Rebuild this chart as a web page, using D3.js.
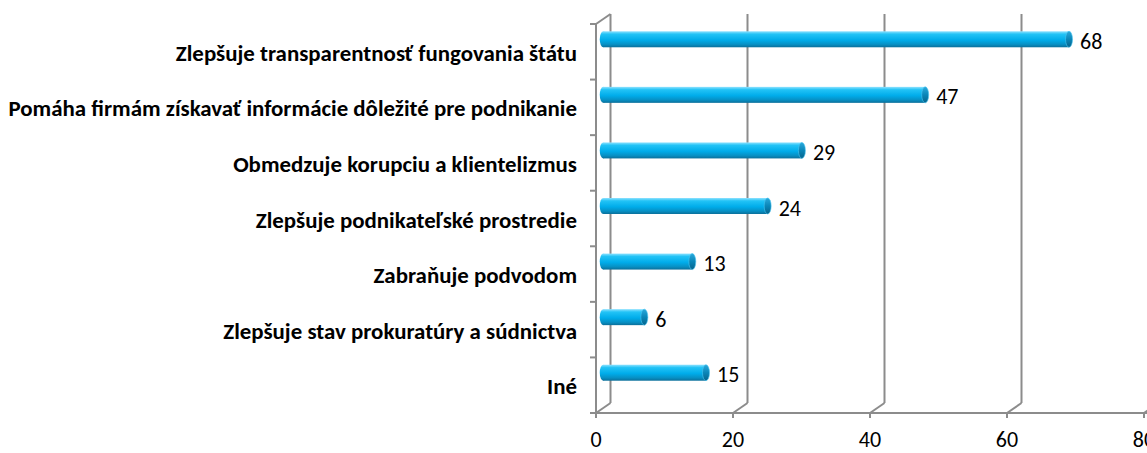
<!DOCTYPE html>
<html>
<head>
<meta charset="utf-8">
<script src="https://cdn.jsdelivr.net/npm/d3@7"></script>
<style>
 body { margin:0; background:#fff; }
 svg { display:block; }
</style>
</head>
<body>
<svg width="1147" height="453"></svg>
<script>
const categories = [
	"Zlepšuje transparentnosť fungovania štátu",
	"Pomáha firmám získavať informácie dôležité pre podnikanie",
	"Obmedzuje korupciu a klientelizmus",
	"Zlepšuje podnikateľské prostredie",
	"Zabraňuje podvodom",
	"Zlepšuje stav prokuratúry a súdnictva",
	"Iné"
];
const values = [68, 47, 29, 24, 13, 6, 15];
const xTicks = [0, 20, 40, 60, 80];

const holder = {
	"svg": d3.select("svg"),
	"left": 596, "right": 1144, "top": 24, "bottom": 413,
	"dx": 14.5, "dy": -10, "wallTop": 14,
	"grid": "#8c8c8c",
	"font": "Calibri, Carlito, 'Open Sans', sans-serif"
};

const x = d3.scaleLinear().domain([0, 80]).range([holder.left, holder.right]);
const y = d3.scaleBand().domain(categories).range([holder.top, holder.bottom]);

function drawFrame(svg) {
	const g = svg.append("g").attr("stroke", holder.grid).attr("stroke-width", 2).attr("fill", "none");
	// back wall gridlines + floor slants + ticks
	xTicks.forEach(t => {
		g.append("line")
			.attr("x1", x(t) + holder.dx).attr("x2", x(t) + holder.dx)
			.attr("y1", holder.bottom + holder.dy).attr("y2", holder.wallTop);
		g.append("line")
			.attr("x1", x(t)).attr("y1", holder.bottom)
			.attr("x2", x(t) + holder.dx).attr("y2", holder.bottom + holder.dy);
		g.append("line")
			.attr("x1", x(t)).attr("x2", x(t))
			.attr("y1", holder.bottom).attr("y2", holder.bottom + 5);
	});
	g.append("line").attr("x1", holder.left).attr("x2", 1147)
		.attr("y1", holder.bottom).attr("y2", holder.bottom);
	// left axis
	g.append("line").attr("x1", holder.left).attr("x2", holder.left)
		.attr("y1", holder.top).attr("y2", holder.bottom);
	g.append("line").attr("x1", holder.left).attr("y1", holder.top)
		.attr("x2", holder.left + holder.dx).attr("y2", holder.wallTop);
	const bounds = categories.map(c => y(c)).concat([holder.bottom]);
	bounds.forEach(b => {
		g.append("line").attr("x1", holder.left - 6).attr("x2", holder.left)
			.attr("y1", b).attr("y2", b);
	});
}

function drawBars(svg) {
	const defs = svg.append("defs");
	const body = defs.append("linearGradient").attr("id", "cyl").attr("x1", 0).attr("y1", 0).attr("x2", 0).attr("y2", 1);
	[["0%", "#8fe2ff"], ["18%", "#22c3f6"], ["55%", "#00acea"], ["82%", "#0790c4"], ["100%", "#0b6f9a"]]
		.forEach(s => body.append("stop").attr("offset", s[0]).attr("stop-color", s[1]));
	const cap = defs.append("linearGradient").attr("id", "cap").attr("x1", 0).attr("y1", 0).attr("x2", 0).attr("y2", 1);
	[["0%", "#2aa9dc"], ["50%", "#0a86b8"], ["100%", "#06648c"]]
		.forEach(s => cap.append("stop").attr("offset", s[0]).attr("stop-color", s[1]));

	const h = 16, rx = 3.5;
	const data = categories.map((c, i) => ({ c: c, v: values[i] }));
	const cy = d => y(d.c) + y.bandwidth() / 2 - 12.5;
	const x0 = x(0) + holder.dx / 2;
	const xv = d => x(d.v) + holder.dx / 2;

	const g = svg.append("g");
	g.selectAll(".lcap").data(data).enter().append("ellipse")
		.attr("cx", x0).attr("cy", cy).attr("rx", rx).attr("ry", h / 2)
		.attr("fill", "url(#cyl)");
	g.selectAll(".body").data(data).enter().append("rect")
		.attr("x", x0).attr("y", d => cy(d) - h / 2)
		.attr("width", d => xv(d) - x0).attr("height", h)
		.attr("fill", "url(#cyl)");
	g.selectAll(".rcap").data(data).enter().append("ellipse")
		.attr("cx", xv).attr("cy", cy).attr("rx", rx).attr("ry", h / 2)
		.attr("fill", "url(#cap)").attr("stroke", "#4cc6f2").attr("stroke-width", 0.6);

	g.selectAll(".val").data(data).enter().append("text")
		.attr("x", d => xv(d) + 11).attr("y", d => cy(d) + 2)
		.attr("dominant-baseline", "central")
		.attr("font-family", holder.font).attr("font-size", 22).attr("fill", "#000")
		.text(d => d.v);
}

function drawLabels(svg) {
	const g = svg.append("g").attr("font-family", holder.font).attr("font-weight", "bold").attr("fill", "#000");
	const labels = g.selectAll("text").data(categories).enter().append("text")
		.attr("x", 577).attr("y", c => y(c) + y.bandwidth() / 2 + 1)
		.attr("text-anchor", "end").attr("dominant-baseline", "central")
		.attr("font-size", 16).text(c => c);
	// fit longest label to the reference width
	let widest = 0;
	labels.each(function () { widest = Math.max(widest, this.getComputedTextLength()); });
	labels.attr("font-size", 16 * 569 / widest);

	svg.append("g").selectAll("text").data(xTicks).enter().append("text")
		.attr("x", x).attr("y", 447)
		.attr("text-anchor", "middle")
		.attr("font-family", holder.font).attr("font-size", 22).attr("fill", "#000")
		.text(t => t);
}

drawFrame(holder.svg);
drawBars(holder.svg);
drawLabels(holder.svg);
</script>
</body>
</html>
